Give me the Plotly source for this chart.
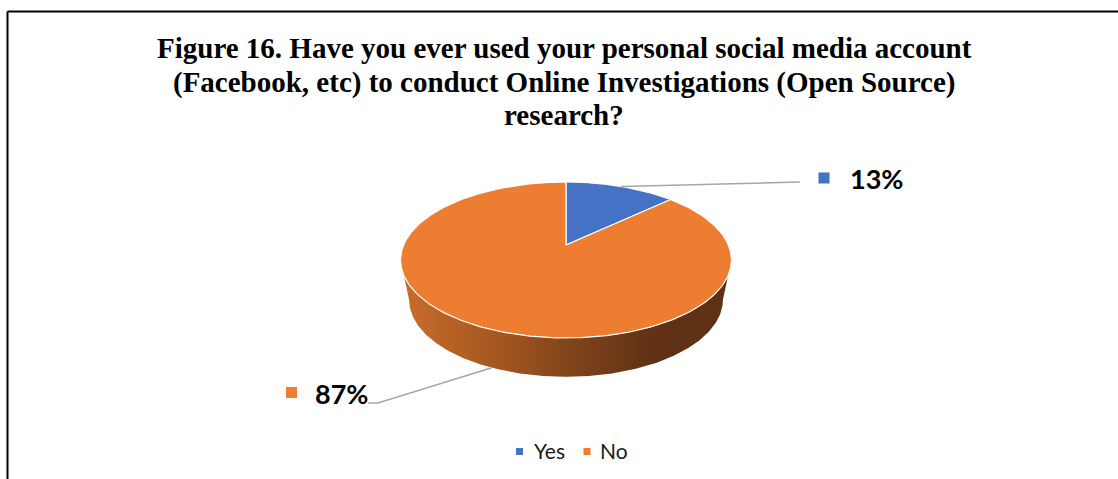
import numpy as np
import plotly.graph_objects as go

# ---- data -------------------------------------------------------------
labels = ["Yes", "No"]
values = [13, 87]
colors = ["#4472C4", "#ED7D31"]
title_lines = [
    "Figure 16. Have you ever used your personal social media account",
    "(Facebook, etc) to conduct Online Investigations (Open Source)",
    "research?",
]

# ---- canvas (pixel coordinates) --------------------------------------
W, H = 1118, 479
CX = 566.0
# perspective disc: top face and bottom face of the extruded pie
TOP = dict(y0=245.0, a=75.1, b=162.4, k=-0.192)
BOT = dict(y0=285.0, a=74.2, b=154.0, k=-0.192)

# label anchor layout: (leader path end points, marker centre, text left)
LABEL_LAYOUT = [
    dict(path=[(800, 182)], marker=(824, 178), text_x=848, text_y=178),
    dict(path=[(378, 403), (368, 403)], marker=(291.5, 392.5), text_x=313, text_y=393),
]
TITLE_Y = [48, 82, 115]


def project(face, theta_deg):
    """Angle measured clockwise from 12 o'clock as seen from above."""
    t = np.radians(theta_deg)
    c, s = np.sin(t), -np.cos(t)
    d = 1 + face["k"] * s
    return CX + face["b"] * c / d, face["y0"] + face["a"] * s / d


total = float(sum(values))
bounds = np.concatenate([[0.0], np.cumsum(values) / total * 360.0])

# silhouette angles of the side wall (front half)
theta_r = 180.0 - np.degrees(np.arccos(-TOP["k"]))
theta_l = 180.0 + np.degrees(np.arccos(-TOP["k"]))

fig = go.Figure()

wall_scale = [[0.0, "#c96d2e"], [0.3, "#a5561f"], [0.55, "#7b4119"],
              [0.75, "#613215"], [1.0, "#5d3014"]]

# side walls
for i in range(len(values)):
    a0, a1 = max(bounds[i], theta_r), min(bounds[i + 1], theta_l)
    if a1 <= a0:
        continue
    th = np.linspace(a0, a1, 240)
    xt, yt = project(TOP, th)
    xb, yb = project(BOT, th[::-1])
    fig.add_trace(go.Scatter(
        x=np.concatenate([xt, xb, xt[:1]]), y=np.concatenate([yt, yb, yt[:1]]),
        mode="lines", fill="toself", line=dict(width=0, color="rgba(0,0,0,0)"),
        fillcolor=colors[i],
        fillgradient=dict(type="horizontal", colorscale=wall_scale),
        hoverinfo="skip", showlegend=False))

# top faces
apex = (CX, TOP["y0"])
for i, (lab, v) in enumerate(zip(labels, values)):
    th = np.linspace(bounds[i], bounds[i + 1], 300)
    xs, ys = project(TOP, th)
    fig.add_trace(go.Scatter(
        x=np.concatenate([[apex[0]], xs, [apex[0]]]),
        y=np.concatenate([[apex[1]], ys, [apex[1]]]),
        mode="lines", fill="toself", fillcolor=colors[i],
        line=dict(color="#ffffff", width=1.2),
        name=lab, hoverinfo="name", showlegend=False))

# leader lines, label markers and percentage text
for i, v in enumerate(values):
    mid = (bounds[i] + bounds[i + 1]) / 2
    s = -np.cos(np.radians(mid))
    face = BOT if s > -TOP["k"] else TOP
    sx, sy = project(face, mid)
    lay = LABEL_LAYOUT[i]
    px = [sx] + [p[0] for p in lay["path"]]
    py = [sy] + [p[1] for p in lay["path"]]
    fig.add_trace(go.Scatter(x=px, y=py, mode="lines",
                             line=dict(color="#a6a6a6", width=1.5),
                             hoverinfo="skip", showlegend=False))
    fig.add_trace(go.Scatter(x=[lay["marker"][0]], y=[lay["marker"][1]], mode="markers",
                             marker=dict(symbol="square", size=11, color=colors[i]),
                             hoverinfo="skip", showlegend=False))
    fig.add_annotation(x=lay["text_x"], y=lay["text_y"], xref="x", yref="y",
                       text=f"<b>{v / total * 100:.0f}%</b>", showarrow=False,
                       xanchor="left", yanchor="middle",
                       font=dict(family="Lato", size=27, color="#000000"))

# legend (drawn at the bottom centre)
legend_items = [(519.5, 532), (587, 598)]
for i, lab in enumerate(labels):
    mx, tx = legend_items[i]
    fig.add_trace(go.Scatter(x=[mx], y=[451.5], mode="markers",
                             marker=dict(symbol="square", size=7, color=colors[i]),
                             hoverinfo="skip", showlegend=False))
    fig.add_annotation(x=tx, y=450, xref="x", yref="y", text=lab, showarrow=False,
                       xanchor="left", yanchor="middle",
                       font=dict(family="Lato", size=21, color="#1a1a1a"))

# title, one annotation per line
for line, ty in zip(title_lines, TITLE_Y):
    fig.add_annotation(x=564, y=ty, xref="x", yref="y", text=f"<b>{line}</b>",
                       showarrow=False, xanchor="center", yanchor="middle",
                       font=dict(family="Liberation Serif", size=29, color="#000000"))

# frame lines at the left and top
fig.add_shape(type="line", x0=7.5, y0=H, x1=7.5, y1=11.5, xref="x", yref="y",
              line=dict(color="#000000", width=2))
fig.add_shape(type="line", x0=7.5, y0=11.5, x1=W, y1=11.5, xref="x", yref="y",
              line=dict(color="#000000", width=2))

fig.update_layout(
    width=W, height=H, margin=dict(l=0, r=0, t=0, b=0),
    paper_bgcolor="#ffffff", plot_bgcolor="#ffffff",
    xaxis=dict(range=[0, W], visible=False, fixedrange=True),
    yaxis=dict(range=[H, 0], visible=False, fixedrange=True),
    showlegend=False,
)

fig.write_html("out.html")
